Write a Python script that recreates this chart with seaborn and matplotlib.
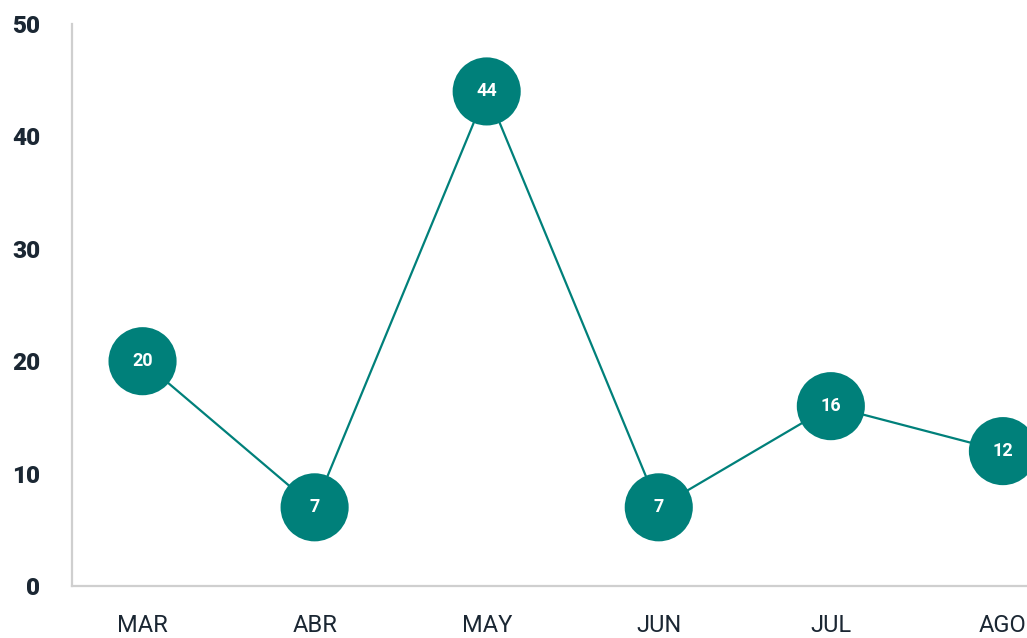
import matplotlib
matplotlib.use("Agg")
import matplotlib.pyplot as plt
import seaborn as sns
import pandas as pd

months = ["MAR", "ABR", "MAY", "JUN", "JUL", "AGO"]
values = [20, 7, 44, 7, 16, 12]
y_ticks = [0, 10, 20, 30, 40, 50]

sns.set_theme(style="white")
plt.rcParams["font.family"] = ["Roboto", "DejaVu Sans"]

df = pd.DataFrame({"month": months, "value": values})
teal = "#00807A"

fig = plt.figure(figsize=(10.27, 6.38), dpi=100)
ax = fig.add_axes([0.0701, 0.0815, 0.9299, 0.8809])

sns.lineplot(data=df, x="month", y="value", sort=False, color=teal,
             linewidth=1.6, ax=ax, zorder=2)
sns.scatterplot(data=df, x="month", y="value", color=teal, s=68**2 * 0.52,
                edgecolor="none", linewidth=0, ax=ax, zorder=3)

for i, v in enumerate(values):
    ax.text(i, v, str(v), color="white", fontsize=13, fontweight="bold",
            ha="center", va="center", zorder=4)

ax.set_xlim(-0.41, 5.14)
ax.set_ylim(0, 50)
ax.set_yticks(y_ticks)
ax.set_yticklabels([str(t) for t in y_ticks], fontsize=17.5, fontweight=900,
                   color="#1b2733")
ax.set_xticks(range(len(months)))
ax.set_xticklabels(months, fontsize=17, color="#1b2733")
ax.tick_params(axis="y", length=0, pad=23)
ax.tick_params(axis="x", length=0, pad=20)
ax.set_xlabel("")
ax.set_ylabel("")

for s in ["top", "right"]:
    ax.spines[s].set_visible(False)
for s in ["left", "bottom"]:
    ax.spines[s].set_color("#cfcfcf")
    ax.spines[s].set_linewidth(1.6)

fig.savefig("out.png", dpi=100)
